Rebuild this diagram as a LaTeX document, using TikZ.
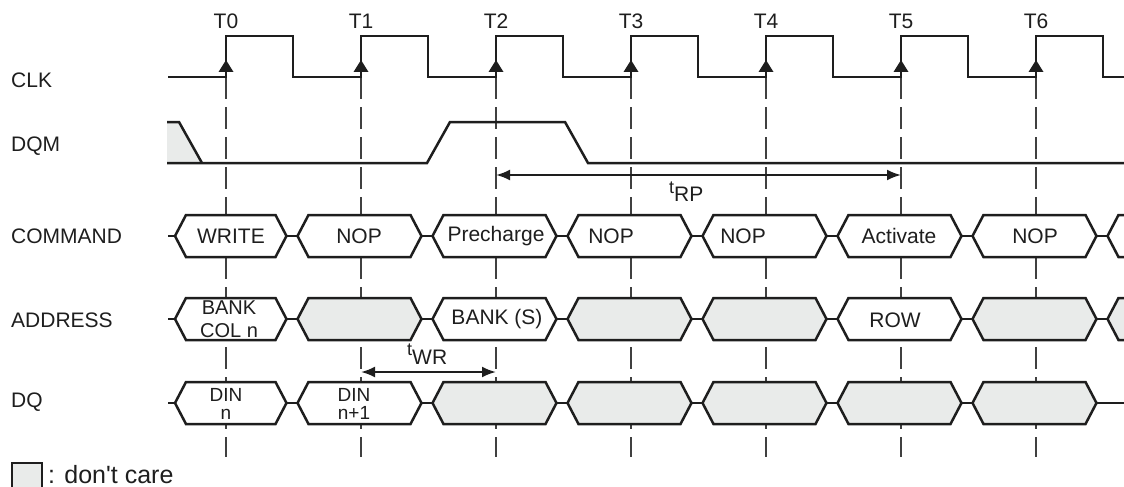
\documentclass[tikz,border=0pt]{standalone}
\usepackage{fontspec}
\setmainfont{Liberation Sans}
\usetikzlibrary{arrows.meta}
\definecolor{ink}{HTML}{1E1E1E}
\definecolor{dcgray}{HTML}{E9EBEA}
\newcommand{\hexcell}[4]{%
  \draw[sig,fill=#4] (#1+5.5,#3) -- (#1+16.5,#3-21) -- (#2-16.5,#3-21) -- (#2-5.5,#3)
    -- (#2-16.5,#3+21) -- (#1+16.5,#3+21) -- cycle;}
\begin{document}
\begin{tikzpicture}[x=1pt,y=-1pt,
  sig/.style={line width=2.5pt,draw=ink,line join=miter},
  tick/.style={line width=1.1pt,draw=ink!85,dash pattern=on 22pt off 8pt},
  lbl/.style={font=\fontsize{21}{23}\selectfont,text=ink,inner sep=0pt},
  dim/.style={line width=2.2pt,draw=ink,{Latex[length=14pt,width=11pt]}-{Latex[length=14pt,width=11pt]}}
]
\useasboundingbox (0,0) rectangle (1124,487);
\clip (0,0) rectangle (1124,487);
\foreach \t [count=\i from 0] in {226,361,496,631,766,901,1036} {
  \coordinate (T\i) at (\t,77);
  \node[lbl] (lab\i) at (\t,21) {T\i};
  \draw[tick] (\t,77) -- (\t,457);
}
\draw[sig] (168,77) foreach \t in {226,361,496,631,766,901,1036} {
  -- (\t,77) -- (\t,36) -- (\t+67,36) -- (\t+67,77)} -- (1124,77);
\foreach \t in {226,361,496,631,766,901,1036}
  \fill[ink] (\t,60) -- (\t+7.5,72) -- (\t-7.5,72) -- cycle;
\node[lbl,anchor=west] (clk) at (11,80) {CLK};
\node[lbl,anchor=west] (dqm) at (11,146) {DQM};
\node[lbl,anchor=west] (command) at (11,236) {COMMAND};
\node[lbl,anchor=west] (address) at (11,320) {ADDRESS};
\node[lbl,anchor=west] (dq) at (11,402) {DQ};
\fill[dcgray] (167,122) -- (179,122) -- (202,163) -- (167,163) -- cycle;
\draw[sig] (167,122) -- (179,122) -- (202,163);
\draw[sig] (167,163) -- (427,163) -- (450,122) -- (565,122) -- (588,163) -- (1124,163);
\coordinate (rpL) at (496,175);
\coordinate (rpR) at (901,175);
\draw[dim] (rpL) -- (rpR);
\node[lbl,anchor=base west] (trp) at (669,193) {{\fontsize{18}{18}\selectfont t}\raisebox{-8pt}{RP}};
\coordinate (wrL) at (361,372);
\coordinate (wrR) at (496,372);
\draw[dim] (wrL) -- (wrR);
\node[lbl,anchor=base west] (twr) at (407,355) {{\fontsize{18}{18}\selectfont t}\raisebox{-9pt}{WR}};
\foreach \y in {236,319,403}
  \draw[sig] (168,\y) -- (176,\y);
\foreach \t in {292,427,562,697,832,967,1102} {
  \draw[sig] (\t-5.5,236) -- (\t+5.5,236);
  \draw[sig] (\t-5.5,319) -- (\t+5.5,319);
}
\foreach \t in {292,427,562,697,832,967}
  \draw[sig] (\t-5.5,403) -- (\t+5.5,403);
\draw[line width=1.8pt,draw=ink] (1096.5,403) -- (1124,403);
\foreach \a/\b in {169.5/292,292/427,427/562,562/697,697/832,832/967,967/1102,1102/1240}
  \hexcell{\a}{\b}{236}{white};
\foreach \a/\b/\f in {169.5/292/white,292/427/dcgray,427/562/white,562/697/dcgray,
  697/832/dcgray,832/967/white,967/1102/dcgray,1102/1240/dcgray}
  \hexcell{\a}{\b}{319}{\f};
\foreach \a/\b/\f in {169.5/292/white,292/427/white,427/562/dcgray,562/697/dcgray,
  697/832/dcgray,832/967/dcgray,967/1102/dcgray}
  \hexcell{\a}{\b}{403}{\f};
\node[lbl] (cmd0) at (231,236) {WRITE};
\node[lbl] (cmd1) at (359,236) {NOP};
\node[lbl] (cmd2) at (496,236) {Precharge};
\node[lbl] (cmd3) at (611,236) {NOP};
\node[lbl] (cmd4) at (743,236) {NOP};
\node[lbl] (cmd5) at (899,236) {Activate};
\node[lbl] (cmd6) at (1035,236) {NOP};
\node[lbl,align=center,font=\fontsize{20}{23}\selectfont] (adr0) at (229,319) {BANK\\COL n};
\node[lbl] (adr2) at (497,319) {BANK (S)};
\node[lbl] (adr5) at (895,320) {ROW};
\node[lbl,align=center,font=\fontsize{19}{18}\selectfont] (dq0) at (226,404) {DIN\\n};
\node[lbl,align=center,font=\fontsize{19}{18}\selectfont] (dq1) at (354,404) {DIN\\n+1};
\draw[line width=1.8pt,draw=ink,fill=dcgray] (12,463) rectangle (42,497);
\node[lbl,anchor=base west,font=\fontsize{25}{27}\selectfont] (legend) at (48,483) {: don\textquotesingle t care};
\end{tikzpicture}
\end{document}
